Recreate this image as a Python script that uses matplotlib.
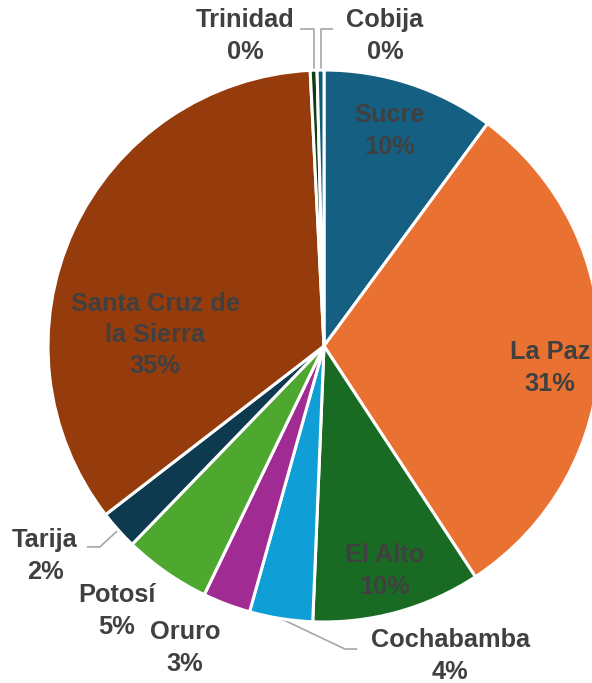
import numpy as np
import matplotlib.pyplot as plt

# Datos del gráfico (porcentajes)
ciudades = ['Sucre', 'La Paz', 'El Alto', 'Cochabamba', 'Oruro', 'Potosí',
            'Tarija', 'Santa Cruz de\nla Sierra', 'Trinidad', 'Cobija']
valores = [10.1, 30.7, 9.9, 3.7, 2.8, 5.1, 2.3, 34.7, 0.4, 0.4]
etiquetas_pct = ['10%', '31%', '10%', '4%', '3%', '5%', '2%', '35%', '0%', '0%']

colores = ['#156082', '#e97132', '#196b24', '#0f9ed5', '#a02b93', '#4ea72e',
           '#0e3a4f', '#953b0c', '#0f3d14', '#0d5c7c']

# Posición de cada etiqueta (coordenadas del eje, radio = 1)
pos_etiquetas = [(0.239, 0.779), (0.819, -0.080), (0.221, -0.815),
                 (0.457, -1.123), (-0.504, -1.094), (-0.750, -0.960),
                 (-1.011, -0.761), (-0.612, 0.040), (-0.286, 1.123),
                 (0.221, 1.123)]
# Líneas guía: (punto de codo, extremo junto al texto)
guias = {
    'Cobija': [None, (0.033, 1.149)],
    'Trinidad': [None, (-0.087, 1.149)],
    'Tarija': [(-0.812, -0.728), (-0.859, -0.728)],
    'Cochabamba': [(0.076, -1.098), (0.120, -1.098)],
}

fig = plt.figure(figsize=(5.92, 6.83), dpi=100)
ax = fig.add_axes([0, 0, 1, 1])

wedges, _ = ax.pie(valores, colors=colores, startangle=90, counterclock=False,
                   radius=1.0, wedgeprops=dict(edgecolor='white', linewidth=2.2))

ax.set_xlim(-324 / 276, 268 / 276)
ax.set_ylim(-337 / 276, 346 / 276)
ax.set_aspect('equal')
ax.axis('off')

for i, nombre in enumerate(ciudades):
    x, y = pos_etiquetas[i]
    ax.text(x, y, nombre + '\n' + etiquetas_pct[i], ha='center', va='center',
            multialignment='center', fontsize=18.3, fontweight='bold',
            color='#404040', family='Liberation Sans', linespacing=1.38)
    if nombre in guias:
        w = wedges[i]
        ang = np.deg2rad((w.theta1 + w.theta2) / 2)
        x0, y0 = np.cos(ang), np.sin(ang)
        codo, (xe, ye) = guias[nombre]
        if codo is None:
            codo = (x0, ye)
        xc, yc = codo
        ax.plot([x0, xc, xe], [y0, yc, ye], color='#a6a6a6', lw=1.2,
                solid_capstyle='butt', zorder=0)

fig.savefig('out.png', dpi=100)
